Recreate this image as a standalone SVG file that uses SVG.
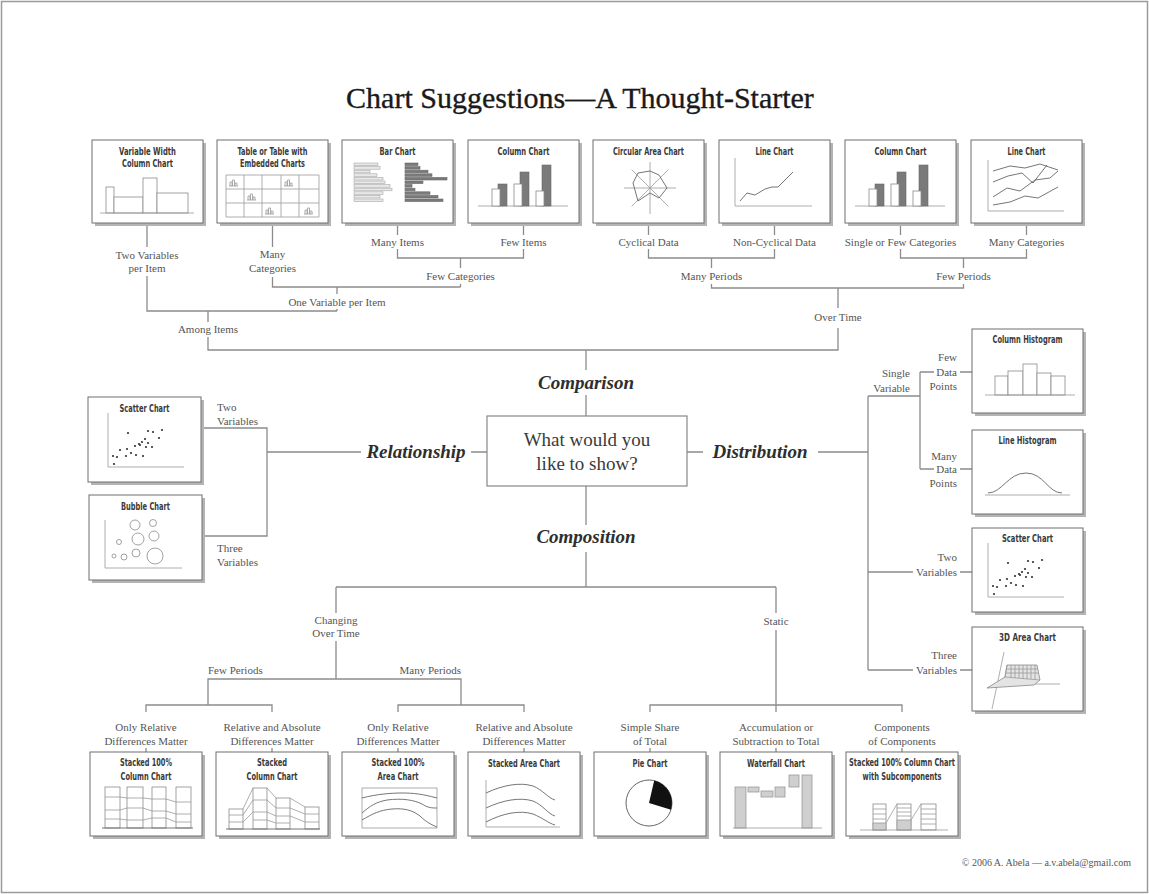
<svg xmlns="http://www.w3.org/2000/svg" width="1149" height="894" viewBox="0 0 1149 894">
<style>
.frame{fill:#fff;stroke:#9a9a9a;stroke-width:1.5}
.sh{fill:#b4b4b4}
.bx{fill:#fff;stroke:#6e6e6e;stroke-width:1}
.t{font-family:'DejaVu Sans Condensed','DejaVu Sans','Liberation Sans',sans-serif;font-weight:bold;font-size:10px;fill:#3a3a3a;text-anchor:middle}
.l{font-family:'Liberation Serif','Times New Roman',serif;font-size:11px;fill:#555;text-anchor:middle}
.ls{text-anchor:start}
.le{text-anchor:end}
.h{font-family:'Liberation Serif','Times New Roman',serif;font-weight:bold;font-style:italic;font-size:19px;fill:#2e2e2e;text-anchor:middle}
.q{font-family:'Liberation Serif','Times New Roman',serif;font-size:19px;fill:#3a3a3a;text-anchor:middle}
.ttl{font-family:'Liberation Serif','Times New Roman',serif;font-size:30px;fill:#1a1a1a;stroke:#1a1a1a;stroke-width:0.35;text-anchor:middle}
.cp{font-family:'Liberation Serif','Times New Roman',serif;font-size:10px;fill:#555;text-anchor:end}
.c{fill:none;stroke:#8c8c8c;stroke-width:1.3}
.a{fill:none;stroke:#9a9a9a;stroke-width:0.8}
.k{fill:none;stroke:#666;stroke-width:0.9}
.aw{fill:#fff;stroke:#8a8a8a;stroke-width:0.8}
.ad{fill:#7a7a7a;stroke:#6a6a6a;stroke-width:0.6}
.al{fill:#e8e8e8;stroke:#a8a8a8;stroke-width:0.6}
.ag{fill:#cfcfcf;stroke:#999;stroke-width:0.8}
.dot{fill:#333}
</style>
<defs>
<g id="colArt">
<line class="a" x1="10" y1="66" x2="100" y2="66"/>
<rect class="ad" x="30" y="44" width="9" height="22"/>
<rect class="aw" x="24" y="49" width="8" height="17"/>
<rect class="ad" x="52" y="32" width="9" height="34"/>
<rect class="aw" x="46" y="44" width="8" height="22"/>
<rect class="ad" x="74" y="25" width="9" height="41"/>
<rect class="aw" x="68" y="51" width="8" height="15"/>
</g>
<g id="scatArt">
<path class="a" d="M16 15 V69 H92"/>
<g class="dot">
<circle cx="22" cy="66" r="1.1"/><circle cx="21" cy="58" r="1.1"/><circle cx="25" cy="59" r="1.1"/><circle cx="28" cy="52" r="1.1"/><circle cx="34" cy="58" r="1.1"/><circle cx="35" cy="51" r="1.1"/><circle cx="39" cy="55" r="1.1"/><circle cx="44" cy="57" r="1.1"/><circle cx="43" cy="48" r="1.1"/><circle cx="47" cy="46" r="1.1"/><circle cx="50" cy="44" r="1.1"/><circle cx="51" cy="58" r="1.1"/><circle cx="53" cy="41" r="1.1"/><circle cx="54" cy="49" r="1.1"/><circle cx="56" cy="45" r="1.1"/><circle cx="60" cy="49" r="1.1"/><circle cx="56" cy="33" r="1.1"/><circle cx="61" cy="34" r="1.1"/><circle cx="67" cy="40" r="1.1"/><circle cx="70" cy="32" r="1.1"/><circle cx="36" cy="35" r="1.1"/><circle cx="48" cy="47" r="1.1"/>
</g>
</g>
<path id="tIcon" class="a" d="M0 8 H9 M1 8 V4 H3 V8 M3.5 8 V2 H5.5 V8 M6 8 V5 H8 V8"/>
</defs>

<rect class="frame" x="1.5" y="1.5" width="1146" height="891"/>
<text class="ttl" x="580" y="108">Chart Suggestions—A Thought-Starter</text>

<g id="connectors">
<path class="c" d="M147 223 V247 M147 276 V311 H337 M337 287 V294 M337 309 V311"/>
<path class="c" d="M272.5 223 V247 M272.5 277 V287 H460.5 M460.5 284 V287 M460.5 258 V268"/>
<path class="c" d="M397.5 223 V235 M397.5 249 V258 H523.5 V249 M523.5 235 V223"/>
<path class="c" d="M208 311 V322 M208 337 V350 H838 V328 M838 308 V288 M586 350 V370 M586 395 V416"/>
<path class="c" d="M648.5 223 V235 M648.5 249 V258 H774.5 V249 M774.5 235 V223 M711.5 258 V268 M711.5 284 V288 H963.5 V284 M963.5 268 V258"/>
<path class="c" d="M900.5 223 V235 M900.5 249 V258 H1026.5 V249 M1026.5 235 V223"/>
<path class="c" d="M487 452 H471 M361 452 H267 M202 428 H267 V536 H202"/>
<path class="c" d="M687 452 H703 M818 452 H868 M868 396 V670 M868 396 H920 M920 372 V469 M920 372 H934 M960 372 H972 M920 469 H934 M960 469 H972 M868 572 H913 M960 572 H972 M868 670 H913 M960 670 H972"/>
<path class="c" d="M586 486 V525 M586 552 V587 M336 587 H776 M336 587 V613 M336 641 V679 M208 705 V679 H461 V705 M146 712 V705 H272 V712 M398 712 V705 H524 V712 M776 587 V613 M776 630 V705 M650 712 V705 H902 V712 M776 705 V712"/>
<path class="c" d="M146 748 V752 M272 748 V752 M398 748 V752 M524 748 V752 M650 748 V752 M776 748 V752 M902 748 V752"/>
</g>

<g id="labels">
<text class="l" x="147" y="259">Two Variables</text><text class="l" x="147" y="272">per Item</text>
<text class="l" x="272.5" y="258">Many</text><text class="l" x="272.5" y="272">Categories</text>
<text class="l" x="397.5" y="246">Many Items</text>
<text class="l" x="523.5" y="246">Few Items</text>
<text class="l" x="460.5" y="280">Few Categories</text>
<text class="l" x="337" y="306">One Variable per Item</text>
<text class="l" x="208" y="333">Among Items</text>
<text class="l" x="648.5" y="246">Cyclical Data</text>
<text class="l" x="774.5" y="246">Non-Cyclical Data</text>
<text class="l" x="900.5" y="246">Single or Few Categories</text>
<text class="l" x="1026.5" y="246">Many Categories</text>
<text class="l" x="711.5" y="280">Many Periods</text>
<text class="l" x="963.5" y="280">Few Periods</text>
<text class="l" x="838" y="321">Over Time</text>
<text class="h" x="586" y="389">Comparison</text>
<text class="h" x="416" y="458">Relationship</text>
<text class="h" x="760" y="458">Distribution</text>
<text class="h" x="586" y="543">Composition</text>
<text class="l ls" x="217" y="411">Two</text><text class="l ls" x="217" y="425">Variables</text>
<text class="l ls" x="217" y="552">Three</text><text class="l ls" x="217" y="566">Variables</text>
<text class="l le" x="910" y="377">Single</text><text class="l le" x="910" y="392">Variable</text>
<text class="l le" x="957" y="361">Few</text><text class="l le" x="957" y="376">Data</text><text class="l le" x="957" y="390">Points</text>
<text class="l le" x="957" y="460">Many</text><text class="l le" x="957" y="473">Data</text><text class="l le" x="957" y="487">Points</text>
<text class="l le" x="957" y="561">Two</text><text class="l le" x="957" y="576">Variables</text>
<text class="l le" x="957" y="659">Three</text><text class="l le" x="957" y="674">Variables</text>
<text class="l" x="336" y="624">Changing</text><text class="l" x="336" y="637">Over Time</text>
<text class="l ls" x="208" y="674">Few Periods</text>
<text class="l le" x="461" y="674">Many Periods</text>
<text class="l" x="146" y="731">Only Relative</text><text class="l" x="146" y="745">Differences Matter</text>
<text class="l" x="272" y="731">Relative and Absolute</text><text class="l" x="272" y="745">Differences Matter</text>
<text class="l" x="398" y="731">Only Relative</text><text class="l" x="398" y="745">Differences Matter</text>
<text class="l" x="524" y="731">Relative and Absolute</text><text class="l" x="524" y="745">Differences Matter</text>
<text class="l" x="776" y="625">Static</text>
<text class="l" x="650" y="731">Simple Share</text><text class="l" x="650" y="745">of Total</text>
<text class="l" x="776" y="731">Accumulation or</text><text class="l" x="776" y="745">Subtraction to Total</text>
<text class="l" x="902" y="731">Components</text><text class="l" x="902" y="745">of Components</text>
<text class="cp" x="1131" y="866">© 2006  A. Abela — a.v.abela@gmail.com</text>
</g>

<g id="center">
<rect x="487" y="416" width="200" height="70" fill="#fff" stroke="#888" stroke-width="1.2"/>
<text class="q" x="587" y="446">What would you</text>
<text class="q" x="587" y="470">like to show?</text>
</g>

<g id="n-varwidth" transform="translate(92,140)">
<rect class="sh" x="3" y="3" width="111" height="83"/><rect class="bx" width="111" height="83"/>
<text class="t" x="55.5" y="15" textLength="57" lengthAdjust="spacingAndGlyphs">Variable Width</text>
<text class="t" x="55.5" y="27" textLength="51" lengthAdjust="spacingAndGlyphs">Column Chart</text>
<rect class="aw" x="14" y="47" width="8" height="26"/><rect class="aw" x="22" y="57" width="29" height="16"/><rect class="aw" x="51" y="38" width="14" height="35"/><rect class="aw" x="65" y="53" width="31" height="20"/>
<path class="a" d="M8 73 H102"/>
</g>

<g id="n-table" transform="translate(217,140)">
<rect class="sh" x="3" y="3" width="111" height="83"/><rect class="bx" width="111" height="83"/>
<text class="t" x="55.5" y="15" textLength="70" lengthAdjust="spacingAndGlyphs">Table or Table with</text>
<text class="t" x="55.5" y="27" textLength="65" lengthAdjust="spacingAndGlyphs">Embedded Charts</text>
<path class="a" d="M9 35 H102 M9 49 H102 M9 63 H102 M9 77 H102 M9 35 V77 M27 35 V77 M45 35 V77 M64 35 V77 M82 35 V77 M102 35 V77"/>
<use href="#tIcon" x="12" y="38"/><use href="#tIcon" x="67" y="38"/><use href="#tIcon" x="30" y="52"/><use href="#tIcon" x="48" y="66"/><use href="#tIcon" x="87" y="66"/>
</g>

<g id="n-bar" transform="translate(342,140)">
<rect class="sh" x="3" y="3" width="111" height="83"/><rect class="bx" width="111" height="83"/>
<text class="t" x="55.5" y="15" textLength="36" lengthAdjust="spacingAndGlyphs">Bar Chart</text>
<rect class="al" x="12" y="23" width="24" height="2.6"/><rect class="al" x="12" y="26.6" width="26" height="2.6"/><rect class="al" x="12" y="30.2" width="16" height="2.6"/><rect class="al" x="12" y="33.8" width="23" height="2.6"/><rect class="al" x="12" y="37.4" width="29" height="2.6"/><rect class="al" x="12" y="41" width="31" height="2.6"/><rect class="al" x="12" y="44.6" width="36" height="2.6"/><rect class="al" x="12" y="48.2" width="38" height="2.6"/><rect class="al" x="12" y="51.8" width="29" height="2.6"/><rect class="al" x="12" y="55.4" width="26" height="2.6"/><rect class="al" x="12" y="59" width="29" height="2.6"/>
<rect class="ad" x="63" y="23" width="13" height="2.6"/><rect class="ad" x="63" y="26.6" width="15" height="2.6"/><rect class="ad" x="63" y="30.2" width="23" height="2.6"/><rect class="ad" x="63" y="33.8" width="27" height="2.6"/><rect class="ad" x="63" y="37.4" width="42" height="2.6"/><rect class="ad" x="63" y="41" width="18" height="2.6"/><rect class="ad" x="63" y="44.6" width="7" height="2.6"/><rect class="ad" x="63" y="48.2" width="10" height="2.6"/><rect class="ad" x="63" y="51.8" width="25" height="2.6"/><rect class="ad" x="63" y="55.4" width="33" height="2.6"/><rect class="ad" x="63" y="59" width="38" height="2.6"/>
</g>

<g id="n-column1" transform="translate(468,140)">
<rect class="sh" x="3" y="3" width="111" height="83"/><rect class="bx" width="111" height="83"/>
<text class="t" x="55.5" y="15" textLength="52" lengthAdjust="spacingAndGlyphs">Column Chart</text>
<use href="#colArt"/>
</g>

<g id="n-circular" transform="translate(593,140)">
<rect class="sh" x="3" y="3" width="111" height="83"/><rect class="bx" width="111" height="83"/>
<text class="t" x="55.5" y="15" textLength="71" lengthAdjust="spacingAndGlyphs">Circular Area Chart</text>
<path class="a" d="M31 48 H83 M57 22 V74 M38.6 29.6 L75.4 66.4 M75.4 29.6 L38.6 66.4"/>
<polygon class="k" points="45,33 57,31 66,35 74,48 66,58 57,53 45,61 40,43"/>
</g>

<g id="n-line1" transform="translate(719,140)">
<rect class="sh" x="3" y="3" width="111" height="83"/><rect class="bx" width="111" height="83"/>
<text class="t" x="55.5" y="15" textLength="38" lengthAdjust="spacingAndGlyphs">Line Chart</text>
<path class="a" d="M16 18 V66 H93"/>
<polyline class="k" points="21,61 28,53 36,55 46,49 53,47 59,47 74,32"/>
</g>

<g id="n-column2" transform="translate(845,140)">
<rect class="sh" x="3" y="3" width="111" height="83"/><rect class="bx" width="111" height="83"/>
<text class="t" x="55.5" y="15" textLength="52" lengthAdjust="spacingAndGlyphs">Column Chart</text>
<use href="#colArt"/>
</g>

<g id="n-line2" transform="translate(971,140)">
<rect class="sh" x="3" y="3" width="111" height="83"/><rect class="bx" width="111" height="83"/>
<text class="t" x="55.5" y="15" textLength="38" lengthAdjust="spacingAndGlyphs">Line Chart</text>
<path class="a" d="M17 20 V71 H93"/>
<polyline class="k" points="22,31 39,26 54,28 69,24 87,30"/>
<polyline class="k" points="22,42 37,36 51,33 62,43 76,25"/>
<polyline class="k" points="22,57 36,48 49,51 64,40 79,38 87,31"/>
<polyline class="k" points="22,65 39,62 54,56 67,58 87,47"/>
</g>

<g id="n-scatter1" transform="translate(88,397)">
<rect class="sh" x="3" y="3" width="113" height="85"/><rect class="bx" width="113" height="85"/>
<text class="t" x="56.5" y="15" textLength="50" lengthAdjust="spacingAndGlyphs">Scatter Chart</text>
<use href="#scatArt" x="4" y="1"/>
</g>

<g id="n-bubble" transform="translate(89,495)">
<rect class="sh" x="3" y="3" width="113" height="85"/><rect class="bx" width="113" height="85"/>
<text class="t" x="56.5" y="15" textLength="49" lengthAdjust="spacingAndGlyphs">Bubble Chart</text>
<path class="a" d="M16 25 V73 H93"/>
<circle class="aw" cx="46" cy="30" r="5"/><circle class="aw" cx="64" cy="28" r="3.5"/><circle class="aw" cx="49" cy="44" r="6"/><circle class="aw" cx="65" cy="41" r="5"/><circle class="aw" cx="30" cy="47" r="2.5"/><circle class="aw" cx="25" cy="61" r="2"/><circle class="aw" cx="35" cy="62" r="3"/><circle class="aw" cx="47" cy="58" r="4"/><circle class="aw" cx="66" cy="61" r="8"/>
</g>

<g id="n-colhist" transform="translate(972,329)">
<rect class="sh" x="3" y="3" width="111" height="84"/><rect class="bx" width="111" height="84"/>
<text class="t" x="55.5" y="14" textLength="70" lengthAdjust="spacingAndGlyphs">Column Histogram</text>
<rect class="aw" x="23" y="47" width="13" height="19"/><rect class="aw" x="36" y="42" width="15" height="24"/><rect class="aw" x="51" y="35" width="14" height="31"/><rect class="aw" x="65" y="44" width="14" height="22"/><rect class="aw" x="79" y="47" width="14" height="19"/>
<path class="a" d="M13 66 H103"/>
</g>

<g id="n-linehist" transform="translate(972,430)">
<rect class="sh" x="3" y="3" width="111" height="84"/><rect class="bx" width="111" height="84"/>
<text class="t" x="55.5" y="14" textLength="58" lengthAdjust="spacingAndGlyphs">Line Histogram</text>
<path class="a" d="M13 65 H98"/>
<path class="k" d="M16 63 C30 63 36 43 54 43 C72 43 76 63 90 63"/>
</g>

<g id="n-scatter2" transform="translate(972,528)">
<rect class="sh" x="3" y="3" width="111" height="84"/><rect class="bx" width="111" height="84"/>
<text class="t" x="55.5" y="14" textLength="51" lengthAdjust="spacingAndGlyphs">Scatter Chart</text>
<use href="#scatArt"/>
</g>

<g id="n-3darea" transform="translate(972,627)">
<rect class="sh" x="3" y="3" width="111" height="84"/><rect class="bx" width="111" height="84"/>
<text class="t" x="55.5" y="14" textLength="57" lengthAdjust="spacingAndGlyphs">3D Area Chart</text>
<path class="a" d="M32 25 L20 82 M62 57 H88"/>
<polygon points="15,61 33,50 35,38 65,38 68,53 62,58" fill="#e4e4e4" stroke="#888" stroke-width="0.8"/>
<path class="a" d="M35 38 L33 50 L68 53 M39 38 V51 M43 38 V51 M47 38 V51 M51 38 V52 M55 38 V52 M59 38 V52 M63 38 V53 M35 42 H66 M34 46 H67"/>
</g>

<g id="n-stk100col" transform="translate(90,752)">
<rect class="sh" x="3" y="3" width="112" height="84"/><rect class="bx" width="112" height="84"/>
<text class="t" x="56" y="14" textLength="52" lengthAdjust="spacingAndGlyphs">Stacked 100%</text>
<text class="t" x="56" y="28" textLength="51" lengthAdjust="spacingAndGlyphs">Column Chart</text>
<rect class="aw" x="15" y="35" width="15" height="41"/><rect class="aw" x="37" y="35" width="16" height="41"/><rect class="aw" x="62" y="35" width="14" height="41"/><rect class="aw" x="86" y="35" width="15" height="41"/>
<polyline class="a" points="15,45 30,45 37,46 53,46 62,47 76,47 86,50 101,50"/>
<polyline class="a" points="15,58 30,58 37,56 53,56 62,59 76,59 86,62 101,62"/>
<polyline class="a" points="15,67 30,67 37,68 53,68 62,66 76,66 86,70 101,70"/>
<path class="k" d="M12 76 H103"/>
</g>

<g id="n-stkcol" transform="translate(216,752)">
<rect class="sh" x="3" y="3" width="112" height="84"/><rect class="bx" width="112" height="84"/>
<text class="t" x="56" y="14" textLength="30" lengthAdjust="spacingAndGlyphs">Stacked</text>
<text class="t" x="56" y="28" textLength="51" lengthAdjust="spacingAndGlyphs">Column Chart</text>
<rect class="aw" x="13" y="57" width="14" height="20"/><rect class="aw" x="37" y="36" width="14" height="41"/><rect class="aw" x="60" y="46" width="14" height="31"/><rect class="aw" x="89" y="55" width="14" height="22"/>
<path class="a" d="M13 63 H27 M13 70 H27 M37 48 H51 M37 60 H51 M37 68 H51 M60 56 H74 M60 64 H74 M60 71 H74 M89 62 H103 M89 70 H103 M27 57 L37 36 M27 63 L37 48 M27 70 L37 60 M51 36 L60 46 M51 48 L60 56 M51 60 L60 64 M51 68 L60 71 M74 46 L89 55 M74 56 L89 62 M74 64 L89 70"/>
<path class="k" d="M10 77 H104"/>
</g>

<g id="n-stk100area" transform="translate(342,752)">
<rect class="sh" x="3" y="3" width="112" height="84"/><rect class="bx" width="112" height="84"/>
<text class="t" x="56" y="14" textLength="53" lengthAdjust="spacingAndGlyphs">Stacked 100%</text>
<text class="t" x="56" y="28" textLength="41" lengthAdjust="spacingAndGlyphs">Area Chart</text>
<rect class="a" x="20" y="36" width="75" height="40"/>
<path class="k" d="M20 46 C35 42 50 41 60 41 C72 41 80 42 95 46"/>
<path class="k" d="M20 61 C28 54 34 50 45 48 C60 46 72 48 80 52 C86 56 90 56 95 56"/>
<path class="k" d="M20 68 C30 62 38 58 50 57 C62 56 70 58 78 64 C84 70 90 73 95 75"/>
</g>

<g id="n-stkarea" transform="translate(468,752)">
<rect class="sh" x="3" y="3" width="112" height="84"/><rect class="bx" width="112" height="84"/>
<text class="t" x="56" y="15" textLength="72" lengthAdjust="spacingAndGlyphs">Stacked Area Chart</text>
<path class="a" d="M18 28 V75 H92"/>
<path class="k" d="M18 41 C35 33 52 30 65 34 C75 38 80 46 87 48"/>
<path class="k" d="M18 56 C35 48 52 45 65 49 C75 53 80 62 87 64"/>
<path class="k" d="M18 70 C35 61 52 58 65 62 C75 66 80 71 87 73"/>
</g>

<g id="n-pie" transform="translate(594,752)">
<rect class="sh" x="3" y="3" width="112" height="84"/><rect class="bx" width="112" height="84"/>
<text class="t" x="56" y="15" textLength="35" lengthAdjust="spacingAndGlyphs">Pie Chart</text>
<circle cx="55" cy="51" r="23" fill="#fff" stroke="#555" stroke-width="0.9"/>
<path d="M55 51 L60.2 28.6 A23 23 0 0 1 77 57.7 Z" fill="#111"/>
</g>

<g id="n-waterfall" transform="translate(720,752)">
<rect class="sh" x="3" y="3" width="112" height="84"/><rect class="bx" width="112" height="84"/>
<text class="t" x="56" y="15" textLength="58" lengthAdjust="spacingAndGlyphs">Waterfall Chart</text>
<rect class="ag" x="15" y="35" width="11" height="41"/><rect class="ag" x="28" y="35" width="11" height="5"/><rect class="ag" x="41" y="39" width="12" height="6"/><rect class="ag" x="55" y="35" width="10" height="10"/><rect class="ag" x="69" y="23" width="10" height="12"/><rect class="ag" x="82" y="23" width="10" height="53"/>
<path class="a" d="M13 76 H102"/>
</g>

<g id="n-stk100sub" transform="translate(846,752)">
<rect class="sh" x="3" y="3" width="112" height="84"/><rect class="bx" width="112" height="84"/>
<text class="t" x="56" y="14" textLength="106" lengthAdjust="spacingAndGlyphs">Stacked 100% Column Chart</text>
<text class="t" x="56" y="28" textLength="79" lengthAdjust="spacingAndGlyphs">with Subcomponents</text>
<rect class="aw" x="27" y="52" width="13" height="26"/><rect class="aw" x="51" y="52" width="14" height="26"/><rect class="aw" x="75" y="52" width="15" height="26"/>
<rect class="ag" x="27" y="71" width="13" height="7"/><rect class="ag" x="51" y="68" width="14" height="10"/>
<path class="a" d="M27 57 H40 M27 62 H40 M27 67 H40 M51 56 H65 M51 60 H65 M51 64 H65 M75 57 H90 M75 62 H90 M75 67 H90 M75 72 H90 M40 71 L51 52 M65 68 L75 52"/>
<path class="a" d="M14 78 H102"/>
</g>
</svg>
